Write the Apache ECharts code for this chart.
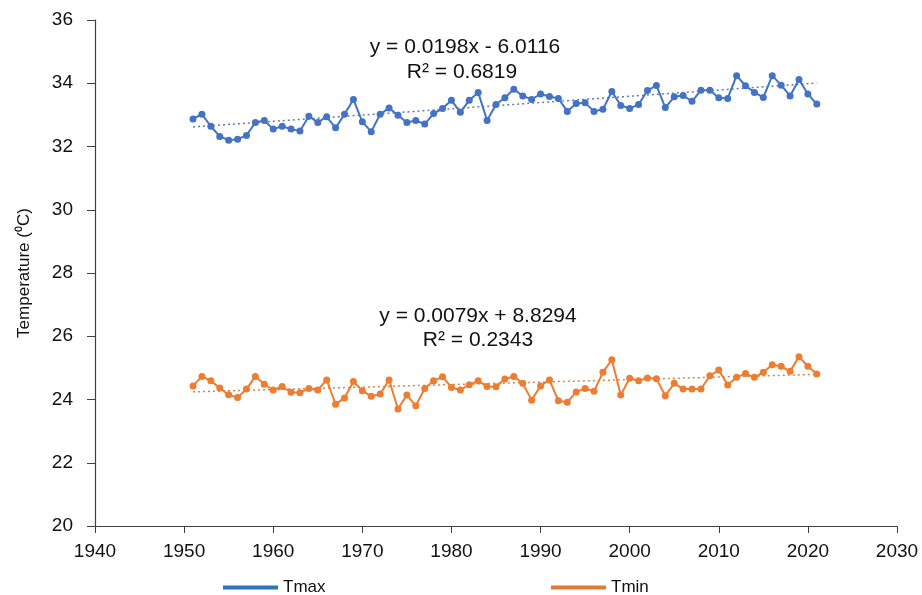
<!DOCTYPE html>
<html><head><meta charset="utf-8">
<script src="https://cdn.jsdelivr.net/npm/echarts@6/dist/echarts.min.js"></script>
<style>html,body{margin:0;padding:0;background:#fff}#c{width:922px;height:595px}</style>
</head><body><div id="c"></div>
<script>
const startYear = 1951;
const tmax = [32.87,33.02,32.64,32.32,32.20,32.23,32.35,32.76,32.82,32.55,
32.64,32.55,32.49,32.96,32.76,32.94,32.59,33.02,33.49,32.78,
32.47,33.02,33.22,32.99,32.76,32.82,32.71,33.04,33.20,33.46,
33.08,33.46,33.71,32.82,33.33,33.54,33.81,33.60,33.49,33.66,
33.58,33.52,33.11,33.36,33.38,33.11,33.18,33.74,33.30,33.20,
33.33,33.77,33.93,33.23,33.57,33.61,33.43,33.78,33.78,33.54,
33.52,34.24,33.92,33.71,33.55,34.24,33.94,33.60,34.12,33.66,33.34];
const tmin = [24.43,24.73,24.59,24.36,24.15,24.06,24.33,24.73,24.48,24.30,
24.41,24.23,24.21,24.35,24.30,24.62,23.85,24.05,24.57,24.28,
24.10,24.17,24.62,23.70,24.14,23.80,24.35,24.59,24.72,24.38,
24.30,24.47,24.59,24.41,24.40,24.65,24.73,24.51,23.98,24.43,
24.62,23.96,23.91,24.24,24.35,24.26,24.86,25.26,24.14,24.67,
24.59,24.68,24.66,24.12,24.51,24.33,24.33,24.33,24.75,24.93,
24.46,24.70,24.82,24.70,24.86,25.10,25.05,24.89,25.35,25.05,24.81];
const tmaxTrend = [0.0198, -6.0116];
const tminTrend = [0.0079, 8.8294];
const tmaxLabels = ['y = 0.0198x - 6.0116', 'R² = 0.6819'];
const tminLabels = ['y = 0.0079x + 8.8294', 'R² = 0.2343'];

const years = tmax.map((_, i) => startYear + i);
const firstY = years[0], lastY = years[years.length - 1];
const pair = (arr) => arr.map((v, i) => [years[i], v]);
const trend = (c) => [[firstY, c[0]*firstY + c[1]], [lastY, c[0]*lastY + c[1]]];

const font = '"Liberation Sans Narrow","Liberation Sans",Arial,sans-serif';
const axisColor = '#404040';
const chart = echarts.init(document.getElementById('c'));
const txt = (s, x, y) => ({type:'text', x:x, y:y, style:{text:s, font:'21px "Liberation Sans",Arial,sans-serif', fill:'#111', align:'center', verticalAlign:'middle'}});
chart.setOption({
  animation:false,
  grid:{left:95, right:25, top:20, bottom:69},
  xAxis:{type:'value', min:1940, max:2030, interval:10,
    axisLine:{lineStyle:{color:axisColor, width:1.2}},
    axisTick:{show:true, length:7, lineStyle:{color:axisColor}},
    splitLine:{show:false},
    axisLabel:{color:'#111', fontSize:19, fontFamily:font, margin:16, formatter:(v)=>String(v)}},
  yAxis:{type:'value', min:20, max:36, interval:2,
    name:'Temperature (⁰C)', nameLocation:'middle', nameGap:62, nameRotate:90,
    nameTextStyle:{color:'#111', fontSize:17, fontFamily:font},
    axisLine:{show:true, lineStyle:{color:axisColor, width:1.2}},
    axisTick:{show:true, length:8, lineStyle:{color:axisColor}},
    splitLine:{show:false},
    axisLabel:{color:'#111', fontSize:19, fontFamily:font, margin:22}},
  legend:[
    {data:[{name:'Tmax', icon:'rect', itemStyle:{color:'#2E75B6'}}], left:218, top:574, itemWidth:55, itemHeight:4, itemGap:8,
      textStyle:{fontSize:17, fontFamily:font, color:'#111'}},
    {data:[{name:'Tmin', icon:'rect', itemStyle:{color:'#E07B39'}}], left:546, top:574, itemWidth:55, itemHeight:4,
      textStyle:{fontSize:17, fontFamily:font, color:'#111'}}
  ],
  graphic:[
    txt(tmaxLabels[0], 465, 47), txt(tmaxLabels[1], 462, 72),
    txt(tminLabels[0], 478, 316), txt(tminLabels[1], 478, 340)
  ],
  series:[
    {name:'Tmax', type:'line', data:pair(tmax), symbol:'circle', symbolSize:7,
      lineStyle:{color:'#4472C4', width:2}, itemStyle:{color:'#4472C4'}, z:3},
    {name:'Tmin', type:'line', data:pair(tmin), symbol:'circle', symbolSize:7,
      lineStyle:{color:'#ED7D31', width:2}, itemStyle:{color:'#ED7D31'}, z:3},
    {name:'TmaxTrend', type:'line', data:trend(tmaxTrend), symbol:'none',
      lineStyle:{color:'#5B7DB0', width:1.5, type:[2,3]}, z:2, silent:true},
    {name:'TminTrend', type:'line', data:trend(tminTrend), symbol:'none',
      lineStyle:{color:'#D9834A', width:1.5, type:[2,3]}, z:2, silent:true}
  ]
});
</script></body></html>
